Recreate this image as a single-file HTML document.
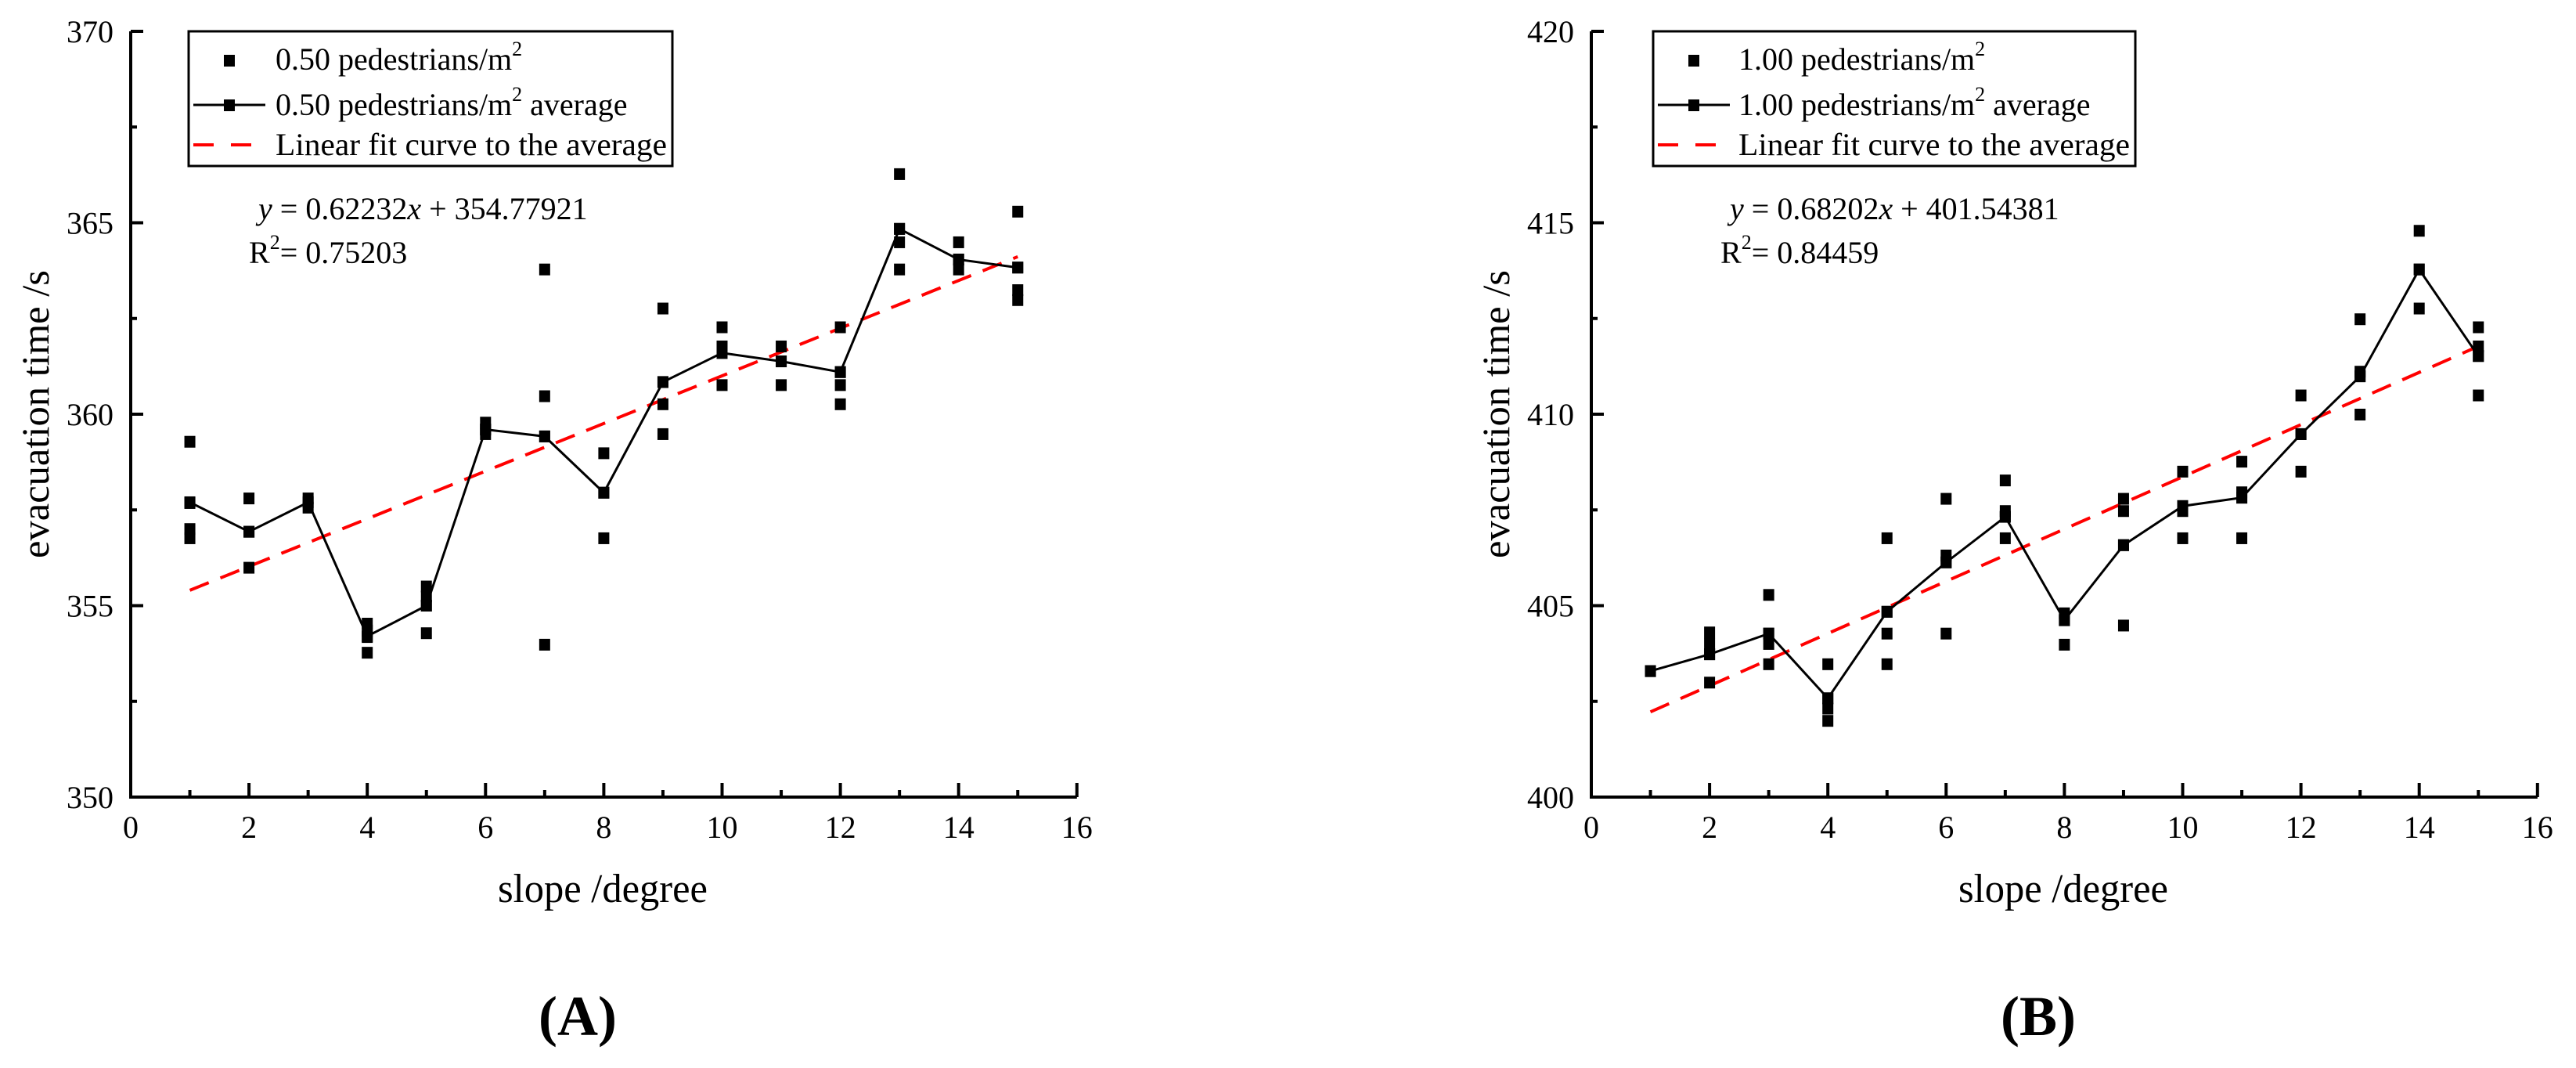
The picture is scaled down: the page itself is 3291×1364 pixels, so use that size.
<!DOCTYPE html>
<html><head><meta charset="utf-8"><style>
html,body{margin:0;padding:0;background:#fff;}
svg{display:block;font-family:"Liberation Serif",serif;}
</style></head><body>
<svg id="fig" width="3291" height="1364" viewBox="0 0 3291 1364" xmlns="http://www.w3.org/2000/svg"></svg>
<script>
const NS="http://www.w3.org/2000/svg";
const slopes=[1,2,3,4,5,6,7,8,9,10,11,12,13,14,15];
const xTicks=[0,2,4,6,8,10,12,14,16];
const yTicksA=[350,355,360,365,370];
const yTicksB=[400,405,410,415,420];
const scatterA=[[359.28,357.68,357.0,356.76],[357.8,356.93,355.99],[357.8,357.56],[354.53,354.35,354.18,353.77],[355.5,355.24,355.0,354.28],[359.78,359.6,359.48],[363.78,360.47,359.42,353.98],[358.98,357.95,356.76],[362.76,360.84,360.26,359.48],[362.27,361.77,361.6,360.76],[361.77,361.38,360.76],[362.27,361.1,360.76,360.26],[366.27,364.84,364.49,363.78],[364.49,364.04,363.78],[365.29,363.83,363.24,362.98]];
const avgA=[357.7,356.93,357.7,354.2,355.0,359.6,359.42,357.95,360.84,361.6,361.38,361.1,364.84,364.04,363.83];
const fitA=[0.62232,354.77921];
const scatterB=[[403.29],[404.3,404.0,403.73,402.99],[405.28,404.27,404.0,403.47],[403.47,402.58,402.31,401.99],[406.76,404.84,404.27,403.47],[407.79,406.31,406.13,404.27],[408.27,407.47,407.32,406.76],[404.8,404.62,403.98],[407.79,407.47,406.58,404.48],[408.5,407.6,407.47,406.76],[408.76,407.96,407.82,406.76],[410.49,409.48,408.5],[412.48,411.11,410.99,409.99],[414.79,413.78,412.76],[412.27,411.77,411.52,410.49]];
const avgB=[403.29,403.73,404.27,402.58,404.84,406.13,407.32,404.62,406.58,407.6,407.82,409.48,410.99,413.78,411.52];
const fitB=[0.68202,401.54381];

const svg=document.getElementById('fig');
function el(tag,attrs,parent,text){const e=document.createElementNS(NS,tag);for(const k in attrs)e.setAttribute(k,attrs[k]);if(text!==undefined)e.textContent=text;(parent||svg).appendChild(e);return e;}

function chart(o){
  const g=el('g',{});
  
  
  const X0=o.x0,UNIT=75.55,Y0=1018,YU=48.9;
  const sx=v=>X0+v*UNIT;
  const sy=v=>Y0-(v-o.ymin)*YU;
  const ax=el('path',{d:`M${sx(0)},${sy(o.ymin+20)} L${sx(0)},${Y0} L${sx(16)},${Y0}`,fill:'none',stroke:'#000','stroke-width':4},g);
  
  
  for(let v=0;v<=16;v++){
    const major=v%2===0;
    el('line',{x1:sx(v),x2:sx(v),y1:Y0,y2:Y0-(major?18:9),stroke:'#000','stroke-width':4},g);
  }
  xTicks.forEach(v=>{
    const t=el('text',{x:sx(v),y:1070,'text-anchor':'middle','font-size':40},g,String(v));
    
    
  });
  for(let i=0;i<=8;i++){
    const v=o.ymin+i*2.5,major=i%2===0;
    el('line',{x1:sx(0),x2:sx(0)+(major?16:8),y1:sy(v),y2:sy(v),stroke:'#000','stroke-width':4},g);
  }
  o.yticks.forEach(v=>{
    const t=el('text',{x:sx(0)-22,y:sy(v)+14,'text-anchor':'end','font-size':40},g,String(v));
    
    
  });
  const yt=el('text',{x:0,y:0,'text-anchor':'middle','font-size':50,textLength:368,lengthAdjust:'spacingAndGlyphs',transform:`translate(${o.ytx},529) rotate(-90)`},g,'evacuation time /s');
  
  
  const xt=el('text',{x:sx(0)+603,y:1152,'text-anchor':'middle','font-size':52,textLength:268,lengthAdjust:'spacingAndGlyphs'},g,'slope /degree');
  
  
  const pl=el('text',{x:sx(0)+571,y:1322,'text-anchor':'middle','font-size':72,'font-weight':'bold'},g,o.label);
  
  
  const f=o.fit;
  const fl=el('line',{x1:sx(1),y1:sy(f[0]*1+f[1]),x2:sx(15),y2:sy(f[0]*15+f[1]),stroke:'#ff0000','stroke-width':4,'stroke-dasharray':'26,16'},g);
  
  
  o.scatter.forEach((arr,i)=>arr.forEach(v=>{
    const r=el('rect',{x:sx(slopes[i])-7,y:sy(v)-7.5,width:14,height:15,fill:'#000'},g);
    
    
  }));
  const pts=o.avg.map((v,i)=>sx(slopes[i])+','+sy(v)).join(' ');
  const al=el('polyline',{points:pts,fill:'none',stroke:'#000','stroke-width':3},g);
  
  
  o.avg.forEach((v,i)=>{
    const r=el('rect',{x:sx(slopes[i])-7,y:sy(v)-7.5,width:14,height:15,fill:'#000'},g);
    
    
  });
  const L=o.leg;
  const lg=el('g',{},g);
  
  
  el('rect',{x:L.x,y:40,width:L.w,height:172,fill:'#fff',stroke:'#000','stroke-width':3},lg);
  el('rect',{x:L.mx-7,y:70,width:14,height:15,fill:'#000'},lg);
  el('line',{x1:L.x+6,x2:L.x+98,y1:134,y2:134,stroke:'#000','stroke-width':3},lg);
  el('rect',{x:L.mx-7,y:127,width:14,height:15,fill:'#000'},lg);
  el('line',{x1:L.x+6,x2:L.x+98,y1:185,y2:185,stroke:'#ff0000','stroke-width':4,'stroke-dasharray':'26,22'},lg);
  const t1=el('text',{x:L.tx,y:89,'font-size':40},lg);
  t1.innerHTML=o.dens+' pedestrians/m<tspan font-size="26" dy="-18">2</tspan>';
  
  
  const t2=el('text',{x:L.tx,y:147,'font-size':40},lg);
  t2.innerHTML=o.dens+' pedestrians/m<tspan font-size="26" dy="-18">2</tspan><tspan dy="18"> average</tspan>';
  
  
  const t3=el('text',{x:L.tx,y:198,'font-size':40,textLength:500,lengthAdjust:'spacingAndGlyphs'},lg,'Linear fit curve to the average');
  
  
  const eq=el('text',{x:L.eqx,y:280,'font-size':40},g);
  eq.innerHTML='<tspan font-style="italic">y</tspan> = '+f[0].toFixed(5)+'<tspan font-style="italic">x</tspan> + '+f[1].toFixed(5);
  
  
  const r2=el('text',{x:L.eqx-12,y:336,'font-size':40},g);
  r2.innerHTML='R<tspan font-size="26" dy="-18">2</tspan><tspan dy="18">= '+o.r2+'</tspan>';
  
  
}
chart({name:'chart-a',x0:167,ymin:350,yticks:yTicksA,scatter:scatterA,avg:avgA,fit:fitA,label:'(A)',dens:'0.50',r2:'0.75203',ytx:62,
  leg:{x:241,w:618,mx:293,tx:352,eqx:330}});
chart({name:'chart-b',x0:2033,ymin:400,yticks:yTicksB,scatter:scatterB,avg:avgB,fit:fitB,label:'(B)',dens:'1.00',r2:'0.84459',ytx:1928,
  leg:{x:2112,w:616,mx:2164,tx:2221,eqx:2210}});
</script>
</body></html>
